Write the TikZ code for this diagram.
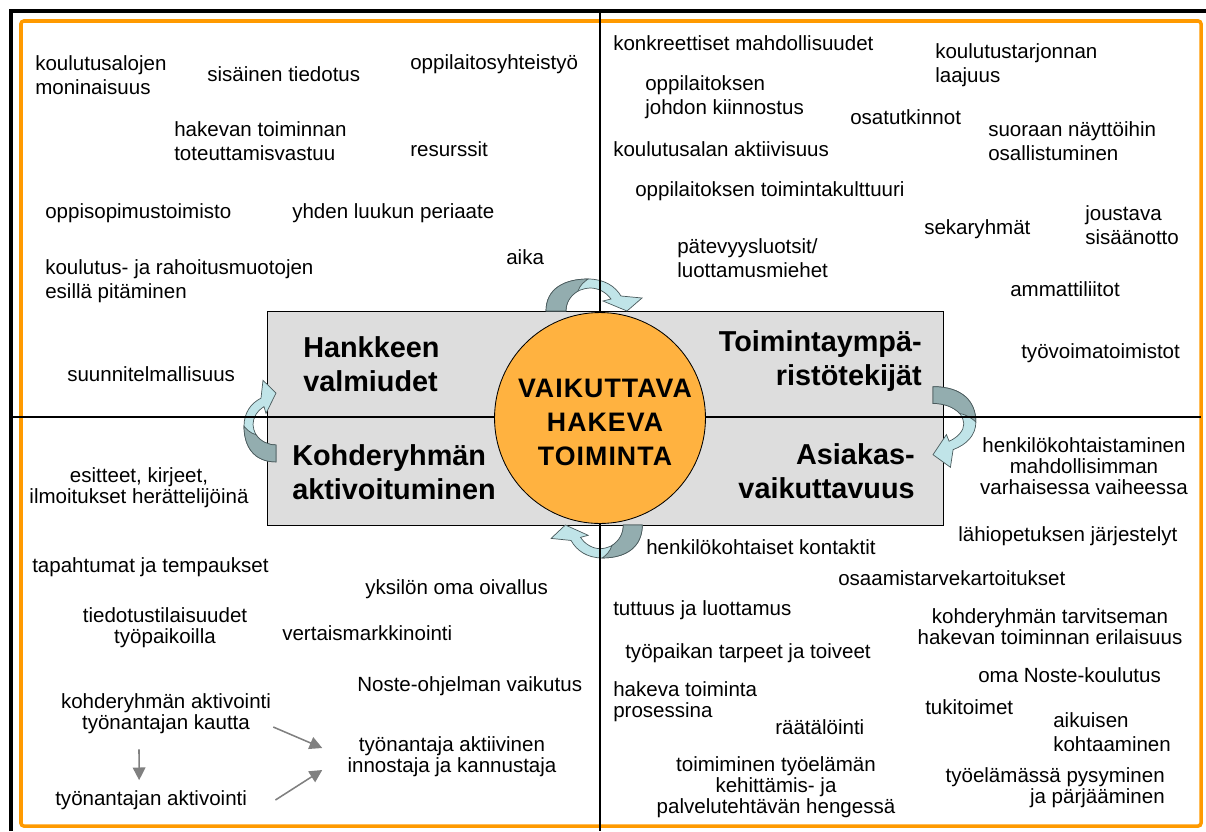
\documentclass[tikz,border=0pt]{standalone}
\usepackage{fontspec}
\setmainfont{Liberation Sans}
\newfontfamily\corefont[LetterSpace=4]{Liberation Sans}
\usetikzlibrary{arrows.meta}
\definecolor{framebar}{HTML}{FF9A00}
\definecolor{corefill}{HTML}{FFB240}
\definecolor{panelgray}{HTML}{DDDDDD}
\definecolor{turnlight}{HTML}{C0E4E8}
\definecolor{turndark}{HTML}{93ADAF}
\definecolor{turnedge}{HTML}{4A5A5C}
\definecolor{pointergray}{HTML}{808080}
\tikzset{
  lbl/.style={inner sep=0pt, font=\fontsize{14.6}{17.4}\selectfont},
  tight/.style={inner sep=0pt, font=\fontsize{14.6}{15}\selectfont},
  head/.style={inner sep=0pt, font=\fontsize{20.5}{24.5}\selectfont\bfseries},
  pointer/.style={draw=pointergray, line width=1.1pt, -{Triangle[length=9pt,width=9pt]}},
  turn/.pic={
    \filldraw[fill=turnlight, draw=turnedge, line width=0.5pt] (-54,0) .. controls (-54,22) and (-36,32) .. (-12,32) .. controls (4,32) and (15,25) .. (21,15) -- (42,13) -- (27,0) -- (3,10) -- (11,12) .. controls (6,19) and (-2,23) .. (-10,23) .. controls (-26,22) and (-34,12) .. (-34,0) -- cycle;
    \filldraw[fill=turndark, draw=turnedge, line width=0.5pt] (-54,0) .. controls (-54,22) and (-36,32) .. (-12,32) .. controls (-16,29) and (-20,26) .. (-22,20) .. controls (-30,15) and (-34,8) .. (-34,0) -- cycle;
  }
}
\begin{document}
\begin{tikzpicture}[x=0.025cm, y=0.025cm]
\useasboundingbox (0,0) rectangle (1206,-831);
\draw[framebar, line width=2.5pt, rounded corners=2] (21,-21) rectangle (1201,-826);
\draw[line width=2.2pt] (11,-831) -- (11,-11) -- (1206,-11);
\draw[fill=panelgray, line width=0.6pt] (267,-311) rectangle (943,-525);
\pic at (600,-311) {turn};
\pic[rotate=-90, xscale=0.84, yscale=1.34] at (933,-432) {turn};
\pic[rotate=180, xscale=0.95, yscale=1.03] at (591,-525) {turn};
\pic[rotate=90, xscale=0.85] at (276,-416) {turn};
\draw[line width=1.4pt] (13,-417) -- (1201,-417);
\draw[line width=1.4pt] (600,-11) -- (600,-831);
\node (core) [circle, draw, fill=corefill, line width=0.6pt, minimum size=150pt, inner sep=0pt] at (600,-418) {};
\node (coretext) [inner sep=0pt, align=center, font=\corefont\fontsize{19}{24.2}\selectfont\bfseries] at (605,-422) {VAIKUTTAVA\\HAKEVA\\TOIMINTA};

\node (hankkeen) [head, anchor=west, align=left] at (303,-364) {Hankkeen\\valmiudet};
\node (ymparisto) [head, anchor=east, align=right] at (922,-361) {Toimintaympä-\\ristötekijät};
\node (kohderyhma) [head, anchor=west, align=left] at (292,-472) {Kohderyhmän\\aktivoituminen};
\node (asiakas) [head, anchor=east, align=right] at (915,-471) {Asiakas-\\vaikuttavuus};

\node (moninaisuus) [lbl, anchor=west, align=left] at (35,-75) {koulutusalojen\\moninaisuus};
\node (tiedotus) [lbl, anchor=west] at (207,-74) {sisäinen tiedotus};
\node (yhteistyo) [lbl, anchor=west] at (410,-64) {oppilaitosyhteistyö};
\node (vastuu) [lbl, anchor=west, align=left] at (174,-141) {hakevan toiminnan\\toteuttamisvastuu};
\node (resurssit) [lbl, anchor=west] at (410,-149) {resurssit};
\node (oppisopimus) [lbl, anchor=west] at (45,-213) {oppisopimustoimisto};
\node (luukku) [lbl, anchor=west] at (292,-213) {yhden luukun periaate};
\node (aika) [lbl, anchor=west] at (506,-257) {aika};
\node (esilla) [lbl, anchor=west, align=left] at (45,-281) {koulutus- ja rahoitusmuotojen\\esillä pitäminen};
\node (suunnitelma) [lbl, anchor=west] at (67,-374) {suunnitelmallisuus};

\node (konkreettiset) [lbl, anchor=west] at (613,-43) {konkreettiset mahdollisuudet};
\node (laajuus) [lbl, anchor=west, align=left] at (935,-65) {koulutustarjonnan\\laajuus};
\node (johto) [lbl, anchor=west, align=left] at (645,-97) {oppilaitoksen\\johdon kiinnostus};
\node (osatutkinnot) [lbl, anchor=west] at (850,-117) {osatutkinnot};
\node (naytto) [lbl, anchor=west, align=left] at (988,-141) {suoraan näyttöihin\\osallistuminen};
\node (aktiivisuus) [lbl, anchor=west] at (613,-149) {koulutusalan aktiivisuus};
\node (kulttuuri) [lbl, anchor=west] at (635,-191) {oppilaitoksen toimintakulttuuri};
\node (sekaryhmat) [lbl, anchor=west] at (924,-229) {sekaryhmät};
\node (sisaanotto) [lbl, anchor=west, align=left] at (1085,-225) {joustava\\sisäänotto};
\node (luotsit) [lbl, anchor=west, align=left] at (677,-258) {pätevyysluotsit/\\luottamusmiehet};
\node (liitot) [lbl, anchor=west] at (1010,-289) {ammattiliitot};
\node (toimistot) [lbl, anchor=west] at (1021,-353) {työvoimatoimistot};

\node (kontaktit) [lbl, anchor=west] at (646,-547) {henkilökohtaiset kontaktit};
\node (varhainen) [tight, align=center] at (1084,-466) {henkilökohtaistaminen\\mahdollisimman\\varhaisessa vaiheessa};
\node (lahiopetus) [lbl, anchor=west] at (958,-536) {lähiopetuksen järjestelyt};
\node (kartoitus) [lbl, anchor=west] at (838,-578) {osaamistarvekartoitukset};
\node (tuttuus) [lbl, anchor=west] at (613,-610) {tuttuus ja luottamus};
\node (erilaisuus) [tight, align=center] at (1050,-627) {kohderyhmän tarvitseman\\hakevan toiminnan erilaisuus};
\node (toiveet) [lbl, anchor=west] at (625,-653) {työpaikan tarpeet ja toiveet};
\node (nostekoulutus) [lbl, anchor=west] at (978,-675) {oma Noste-koulutus};
\node (prosessi) [tight, anchor=west, align=left] at (613,-702) {hakeva toiminta\\prosessina};
\node (tukitoimet) [lbl, anchor=west] at (925,-707) {tukitoimet};
\node (kohtaaminen) [lbl, anchor=west, align=left] at (1053,-732) {aikuisen\\kohtaaminen};
\node (raatalointi) [lbl, anchor=west] at (775,-727) {räätälöinti};
\node (hengessa) [tight, align=center] at (776,-787) {toimiminen työelämän\\kehittämis- ja\\palvelutehtävän hengessä};
\node (parjaaminen) [tight, anchor=east, align=right] at (1165,-788) {työelämässä pysyminen\\ja pärjääminen};

\node (esitteet) [tight, align=center] at (139,-488) {esitteet, kirjeet,\\ilmoitukset herättelijöinä};
\node (tapahtumat) [lbl, anchor=west] at (32,-567) {tapahtumat ja tempaukset};
\node (oivallus) [lbl, anchor=west] at (365,-589) {yksilön oma oivallus};
\node (tilaisuudet) [tight, align=center] at (165,-628) {tiedotustilaisuudet\\työpaikoilla};
\node (vertais) [lbl, anchor=west] at (282,-633) {vertaismarkkinointi};
\node (nosteohjelma) [lbl, anchor=west] at (357,-686) {Noste-ohjelman vaikutus};
\node (kautta) [tight, align=center] at (166,-714) {kohderyhmän aktivointi\\työnantajan kautta};
\node (innostaja) [tight, align=center] at (452,-757) {työnantaja aktiivinen\\innostaja ja kannustaja};
\node (aktivointi) [lbl, anchor=west] at (55,-800) {työnantajan aktivointi};

\draw[pointer] ([shift={(2,-13)}]kautta.east) -- ([shift={(-25,9)}]innostaja.west);
\draw[pointer] ([xshift=20]aktivointi.east) -- ([shift={(-25,-13)}]innostaja.west);
\draw[pointer] ([shift={(-27,-15)}]kautta.south) -- ([shift={(-12,10)}]aktivointi.north);
\end{tikzpicture}
\end{document}
